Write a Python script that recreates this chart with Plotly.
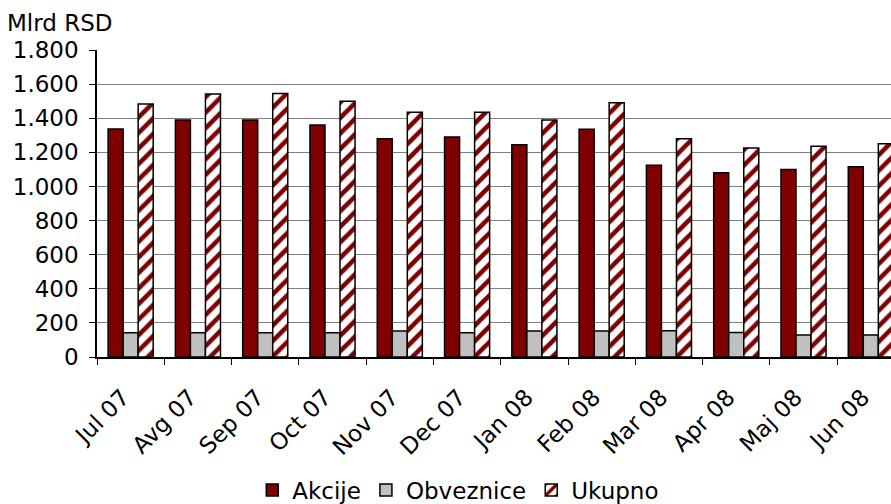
import plotly.graph_objects as go

months = ["Jul 07", "Avg 07", "Sep 07", "Oct 07", "Nov 07", "Dec 07",
          "Jan 08", "Feb 08", "Mar 08", "Apr 08", "Maj 08", "Jun 08"]
akcije = [1337, 1390, 1390, 1360, 1280, 1290, 1245, 1335, 1125, 1080, 1100, 1115]
obveznice = [142, 142, 142, 142, 152, 142, 152, 152, 154, 143, 129, 129]
ukupno = [1484, 1542, 1545, 1500, 1435, 1435, 1390, 1490, 1280, 1225, 1235, 1250]
y_ticks = [0, 200, 400, 600, 800, 1000, 1200, 1400, 1600, 1800]

FONT = "DejaVu Sans, Verdana, sans-serif"
outline = dict(color="black", width=1.5)

fig = go.Figure()
fig.add_trace(go.Bar(x=months, y=akcije, name="Akcije",
                     marker=dict(color="#800000", line=outline)))
fig.add_trace(go.Bar(x=months, y=obveznice, name="Obveznice",
                     marker=dict(color="#c0c0c0", line=outline)))
fig.add_trace(go.Bar(x=months, y=ukupno, name="Ukupno",
                     marker=dict(color="white", line=outline,
                                 pattern=dict(shape="/", fgcolor="#800000",
                                              fgopacity=1, bgcolor="white",
                                              size=11, solidity=0.42))))

fig.update_layout(
    width=891, height=504,
    margin=dict(l=97, r=0, t=50, b=147, autoexpand=False),
    paper_bgcolor="white", plot_bgcolor="white",
    barmode="group", bargap=0.33, bargroupgap=0,
    font=dict(family=FONT, size=23, color="black"),
    showlegend=True,
    legend=dict(orientation="h", x=0.455, xanchor="center", y=-0.433,
                yanchor="middle", font=dict(size=23), itemwidth=30,
                tracegroupgap=0, traceorder="normal"),
    annotations=[dict(text="Mlrd RSD", xref="paper", yref="paper",
                      x=-0.116, y=1.088, xanchor="left", yanchor="middle",
                      showarrow=False, font=dict(size=23))],
)
fig.update_xaxes(range=[-0.5, 11.3], tickangle=-45, tickson="boundaries",
                 ticks="outside", ticklen=6, tickcolor="black",
                 ticklabelstandoff=16, ticklabelshift=-8, automargin=False,
                 showline=True, linecolor="black", linewidth=1.5,
                 showgrid=False)
fig.update_yaxes(range=[0, 1800], tickvals=y_ticks,
                 ticktext=[f"{v:,}".replace(",", ".") for v in y_ticks],
                 ticks="outside", ticklen=6, tickcolor="black",
                 ticklabelstandoff=6, automargin=False,
                 showline=True, linecolor="black", linewidth=1.5,
                 showgrid=True, gridcolor="#7f7f7f", gridwidth=1,
                 zeroline=False)

# drop the default page margin so the figure sits at the window corner
fig.write_html("out.html", config={"displayModeBar": False},
               post_script="document.body.style.margin='0';")
